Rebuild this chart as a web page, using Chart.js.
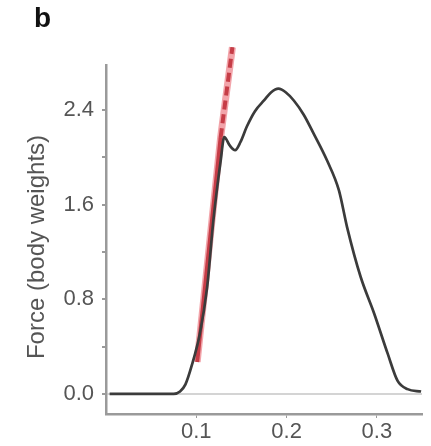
<!DOCTYPE html>
<html>
<head>
<meta charset="utf-8">
<script src="https://cdn.jsdelivr.net/npm/chart.js@4"></script>
<style>
  html, body { margin: 0; padding: 0; background: #fff; }
  #wrap { position: relative; width: 431px; height: 446px; }
  #ytitle {
    position: absolute; left: 36px; top: 247px;
    transform: translate(-50%, -50%) rotate(-90deg);
    font: 24px "Liberation Sans", Arial, sans-serif; color: #555;
    white-space: nowrap;
  }
  #panel {
    position: absolute; left: 34px; top: 2px;
    font: bold 28px "Liberation Sans", Arial, sans-serif; color: #111;
  }
</style>
</head>
<body>
<div id="wrap">
  <canvas id="forceChart" width="431" height="446"></canvas>
  <div id="panel">b</div>
  <div id="ytitle">Force (body weights)</div>
</div>
<script>
// force trace (x = time in s, y = force in body weights)
const timeS   = [0.004, 0.04, 0.075, 0.082, 0.088, 0.095, 0.104, 0.112, 0.119, 0.127, 0.131, 0.137, 0.143, 0.149, 0.156, 0.165, 0.175, 0.183, 0.191, 0.199, 0.208, 0.219, 0.230, 0.245, 0.258, 0.267, 0.282, 0.297, 0.312, 0.323, 0.334, 0.349];
const forceBW = [0.0, 0.0, 0.0, 0.02, 0.08, 0.24, 0.51, 0.90, 1.47, 1.97, 2.17, 2.10, 2.06, 2.13, 2.26, 2.39, 2.48, 2.55, 2.58, 2.55, 2.48, 2.36, 2.20, 1.97, 1.72, 1.41, 0.99, 0.68, 0.34, 0.11, 0.04, 0.02];

// red slope fit
const fitSolidX  = [0.101, 0.127];
const fitSolidY  = [0.27, 2.17];
const fitDashX   = [0.127, 0.140];
const fitDashY   = [2.17, 2.93];

const yTickVals = [0, 0.4, 0.8, 1.2, 1.6, 2.0, 2.4];
const xTickVals = [0.1, 0.2, 0.3];

const FONT = '"Liberation Sans", Arial, sans-serif';

function pts(xs, ys) {
    return xs.map((x, i) => ({ x: x, y: ys[i] }));
}

const ctx = document.getElementById('forceChart').getContext('2d');
let forceChart = new Chart(ctx, {
    type: 'line',
    data: {
        datasets: [
            {
                data: pts(timeS, forceBW),
                borderColor: '#3b3b3b',
                borderWidth: 2.7,
                pointRadius: 0,
                tension: 0.35,
                cubicInterpolationMode: 'monotone'
            },
            {
                data: pts(fitSolidX.concat(fitDashX.slice(1)), fitSolidY.concat(fitDashY.slice(1))),
                borderColor: 'rgba(232, 90, 100, 0.55)',
                borderWidth: 7,
                pointRadius: 0,
                clip: false
            },
            {
                data: pts(fitSolidX, fitSolidY),
                borderColor: '#9e1c24',
                borderWidth: 4,
                pointRadius: 0,
                clip: false
            },
            {
                data: pts(fitDashX, fitDashY),
                borderColor: '#9e1c24',
                borderWidth: 4,
                borderDash: [9, 5],
                pointRadius: 0,
                clip: false
            }
        ]
    },
    options: {
        responsive: false,
        animation: false,
        layout: { padding: { top: 65, right: 9, left: 0, bottom: 0 } },
        plugins: {
            legend: { display: false },
            tooltip: { enabled: false }
        },
        scales: {
            x: {
                type: 'linear',
                min: 0,
                max: 0.35,
                afterBuildTicks: (s) => { s.ticks = xTickVals.map(v => ({ value: v })); },
                afterFit: (s) => { s.height = 32; },
                border: { color: '#9a9a9a', width: 2.5 },
                grid: { drawOnChartArea: false, tickLength: 4, color: '#9a9a9a' },
                ticks: {
                    color: '#555',
                    font: { family: FONT, size: 22 },
                    padding: 1,
                    callback: (v) => v.toFixed(1)
                }
            },
            y: {
                type: 'linear',
                min: -0.17,
                max: 2.78,
                afterBuildTicks: (s) => { s.ticks = yTickVals.map(v => ({ value: v })); },
                afterFit: (s) => { s.width = 106; },
                border: { color: '#9a9a9a', width: 2.5 },
                grid: {
                    tickLength: 4,
                    tickColor: '#9a9a9a',
                    color: (c) => (c.tick && c.tick.value === 0 ? '#d4d4d4' : 'rgba(0,0,0,0)'),
                    lineWidth: 2
                },
                ticks: {
                    color: '#555',
                    font: { family: FONT, size: 22 },
                    padding: 8,
                    callback: (v, i) => (i % 2 === 0 ? v.toFixed(1) : '')
                }
            }
        }
    }
});
</script>
</body>
</html>
